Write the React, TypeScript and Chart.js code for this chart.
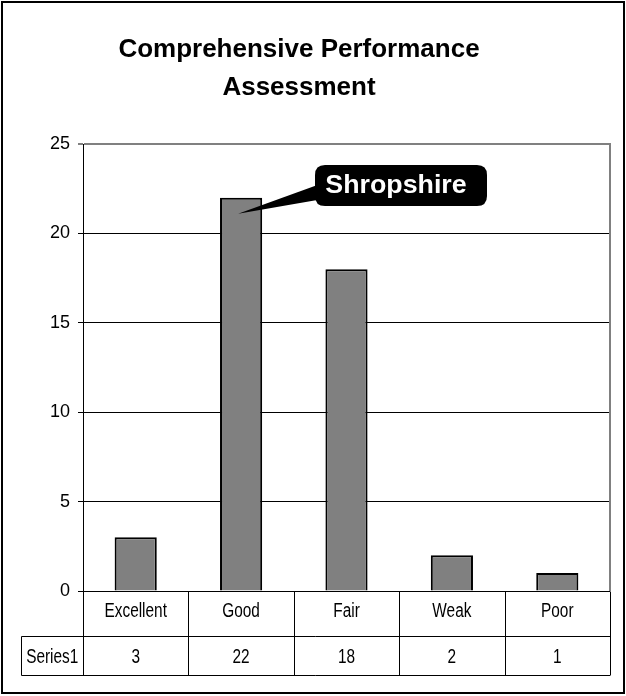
import React, { useEffect, useRef } from "react";
import { Chart, registerables } from "chart.js";

Chart.register(...registerables);

const titleLines = ["Comprehensive Performance", "Assessment"];
const categories = ["Excellent", "Good", "Fair", "Weak", "Poor"];
const seriesName = "Series1";
const values = [3, 22, 18, 2, 1];
const yTicks = [0, 5, 10, 15, 20, 25];
const calloutText = "Shropshire";
const calloutTarget = { index: 1, value: 21.1 };

const FONT = "'Liberation Sans', Arial, sans-serif";

function drawScaledText(ctx: CanvasRenderingContext2D, text: string, x: number, y: number, font: string, color: string, sx: number) {
  ctx.save();
  ctx.translate(x, y);
  ctx.scale(sx, 1);
  ctx.font = font;
  ctx.fillStyle = color;
  ctx.textAlign = "center";
  ctx.textBaseline = "alphabetic";
  ctx.fillText(text, 0, 0);
  ctx.restore();
}

const decorPlugin = {
  id: "decor",
  beforeDraw(chart: any) {
    const ctx = chart.ctx as CanvasRenderingContext2D;
    ctx.save();
    ctx.fillStyle = "#fff";
    ctx.fillRect(0, 0, chart.width, chart.height);
    ctx.restore();
  },
  afterDraw(chart: any) {
    const ctx = chart.ctx as CanvasRenderingContext2D;
    const xs = chart.scales.x;
    const ys = chart.scales.y;
    const area = chart.chartArea;
    ctx.save();

    // Title
    drawScaledText(ctx, titleLines[0], 299, 57, `bold 26px ${FONT}`, "#000", 1);
    drawScaledText(ctx, titleLines[1], 299, 95, `bold 26px ${FONT}`, "#000", 1);

    // plot area right border (gray)
    ctx.strokeStyle = "#808080";
    ctx.lineWidth = 2;
    ctx.beginPath();
    ctx.moveTo(area.right, area.top - 1);
    ctx.lineTo(area.right, area.bottom);
    ctx.stroke();

    // Data table
    const n = categories.length;
    const cw = (xs.right - xs.left) / n;
    const top = Math.round(area.bottom) + 0.5;
    const mid = 636.5;
    const bot = 675.5;
    const labelLeft = 21.5;
    ctx.strokeStyle = "#000";
    ctx.lineWidth = 1;
    ctx.beginPath();
    ctx.moveTo(xs.left, top);
    ctx.lineTo(xs.right, top);
    ctx.moveTo(labelLeft, mid);
    ctx.lineTo(xs.right, mid);
    ctx.moveTo(labelLeft, bot);
    ctx.lineTo(xs.right, bot);
    ctx.moveTo(labelLeft, mid);
    ctx.lineTo(labelLeft, bot);
    for (let i = 0; i <= n; i++) {
      const x = Math.round(xs.left + cw * i) + 0.5;
      ctx.moveTo(x, top);
      ctx.lineTo(x, bot);
    }
    ctx.stroke();

    const tfont = `20px ${FONT}`;
    for (let i = 0; i < n; i++) {
      const cx = xs.getPixelForValue(i);
      drawScaledText(ctx, categories[i], cx, 617, tfont, "#000", 0.77);
      drawScaledText(ctx, String(values[i]), cx, 663, tfont, "#000", 0.77);
    }
    drawScaledText(ctx, seriesName, (labelLeft + xs.left) / 2, 663, tfont, "#000", 0.77);

    // Callout
    const tipX = xs.getPixelForValue(calloutTarget.index) - 3;
    const tipY = ys.getPixelForValue(calloutTarget.value);
    const bx = 315, by = 165, bw = 172, bh = 41, r = 10;
    ctx.fillStyle = "#000";
    ctx.beginPath();
    ctx.moveTo(tipX, tipY);
    ctx.lineTo(bx + 8, 183);
    ctx.lineTo(bx + 8, 199);
    ctx.closePath();
    ctx.fill();
    ctx.beginPath();
    ctx.moveTo(bx + r, by);
    ctx.lineTo(bx + bw - r, by);
    ctx.quadraticCurveTo(bx + bw, by, bx + bw, by + r);
    ctx.lineTo(bx + bw, by + bh - r);
    ctx.quadraticCurveTo(bx + bw, by + bh, bx + bw - r, by + bh);
    ctx.lineTo(bx + r, by + bh);
    ctx.quadraticCurveTo(bx, by + bh, bx, by + bh - r);
    ctx.lineTo(bx, by + r);
    ctx.quadraticCurveTo(bx, by, bx + r, by);
    ctx.closePath();
    ctx.fill();
    drawScaledText(ctx, calloutText, bx + bw / 2 - 5, 193, `bold 26px ${FONT}`, "#fff", 1.03);

    // Outer border
    ctx.strokeStyle = "#000";
    ctx.lineWidth = 2;
    ctx.strokeRect(2, 2, 622, 691);

    ctx.restore();
  },
};

export default function App() {
  const ref = useRef<HTMLCanvasElement | null>(null);
  useEffect(() => {
    if (!ref.current) return;
    const chart = new Chart(ref.current, {
      type: "bar",
      data: {
        labels: categories,
        datasets: [
          {
            label: seriesName,
            data: values,
            backgroundColor: "#808080",
            borderColor: "#000",
            borderWidth: 2,
            categoryPercentage: 1,
            barPercentage: 0.4,
          },
        ],
      },
      options: {
        animation: false,
        responsive: false,
        devicePixelRatio: 1,
        layout: { padding: { top: 144, left: 0, right: 16, bottom: 105 } },
        plugins: {
          legend: { display: false },
          title: { display: false },
          tooltip: { enabled: false },
        },
        scales: {
          x: { display: false },
          y: {
            min: yTicks[0],
            max: yTicks[yTicks.length - 1],
            afterBuildTicks: (scale: any) => {
              scale.ticks = yTicks.map((v) => ({ value: v }));
            },
            afterFit: (scale: any) => {
              scale.width = 83;
            },
            ticks: {
              color: "#000",
              padding: 8,
              font: { family: FONT, size: 18 },
            },
            grid: {
              color: (c: any) => (c.tick && c.tick.value === 25 ? "#808080" : "#000"),
              tickColor: (c: any) => (c.tick && c.tick.value === 25 ? "#808080" : "#000"),
              lineWidth: (c: any) => (c.tick && c.tick.value === 25 ? 2 : 1),
              tickLength: 5,
            },
            border: { display: true, color: "#000", width: 1 },
          },
        },
      } as any,
      plugins: [decorPlugin],
    });
    return () => chart.destroy();
  }, []);
  return (
    <div style={{ position: "fixed", left: 0, top: 0, width: 626, height: 696, background: "#fff" }}>
      <canvas ref={ref} width={626} height={696} style={{ display: "block" }} />
    </div>
  );
}
